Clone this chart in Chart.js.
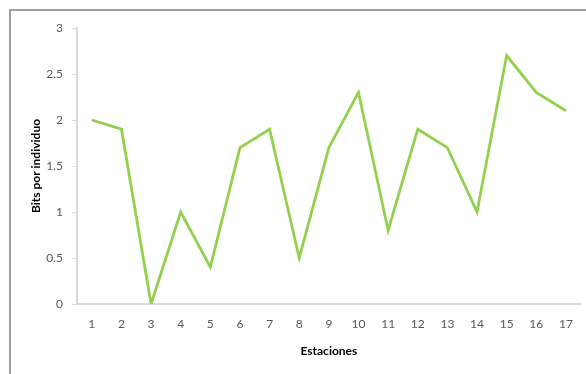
<!DOCTYPE html>
<html>
<head>
<meta charset="utf-8">
<script src="https://cdn.jsdelivr.net/npm/chart.js@4.4.1/dist/chart.umd.min.js"></script>
<style>
  html, body { margin: 0; padding: 0; background: #fff; }
  #wrap { position: relative; width: 586px; height: 374px; overflow: hidden; }
  #frame { position: absolute; left: 9px; top: 9px; width: 700px; height: 500px;
           border-top: 2px solid #a0a0a0; border-left: 2px solid #a0a0a0; }
  canvas { position: absolute; left: 0; top: 0; }
</style>
</head>
<body>
<div id="wrap">
  <div id="frame"></div>
  <canvas id="c" width="586" height="374"></canvas>
</div>
<script>
// Diversity per station (bits per individual)
const estaciones = ['1','2','3','4','5','6','7','8','9','10','11','12','13','14','15','16','17'];
const bits = [2.0, 1.9, 0.0, 1.0, 0.4, 1.7, 1.9, 0.5, 1.7, 2.3, 0.8, 1.9, 1.7, 1.0, 2.7, 2.3, 2.1];
const yTicks = [0, 0.5, 1, 1.5, 2, 2.5, 3];

const tickFont = { family: 'Lato, "Open Sans", sans-serif', size: 12 };
const titleFont = { family: 'Lato, "Open Sans", sans-serif', size: 12, weight: 'bold' };

new Chart(document.getElementById('c'), {
  type: 'line',
  data: {
    labels: estaciones,
    datasets: [{
      data: bits,
      borderColor: '#92D050',
      borderWidth: 2.8,
      pointRadius: 0,
      tension: 0,
      fill: false
    }]
  },
  options: {
    responsive: false,
    animation: false,
    layout: { padding: { top: 28, right: 4, bottom: 0, left: 0 } },
    plugins: { legend: { display: false }, tooltip: { enabled: false } },
    scales: {
      x: {
        offset: true,
        grid: { display: true, drawOnChartArea: false, drawTicks: false, color: '#d9d9d9' },
        border: { display: true, color: '#d9d9d9', width: 2 },
        ticks: { font: tickFont, color: '#595959', padding: 13, maxRotation: 0 },
        title: { display: true, text: 'Estaciones', font: titleFont, color: '#000', padding: { top: 0, bottom: 16 } },
        afterFit: (s) => { s.height = 70; }
      },
      y: {
        min: 0,
        max: 3,
        afterBuildTicks: (s) => { s.ticks = yTicks.map(v => ({ value: v })); },
        grid: { display: true, drawOnChartArea: false, drawTicks: true, tickLength: 5, color: '#d9d9d9' },
        border: { display: true, color: '#d9d9d9', width: 2 },
        ticks: { font: tickFont, color: '#595959', padding: 9, callback: (v) => String(v) },
        title: { display: true, text: 'Bits por individuo', font: titleFont, color: '#000', padding: { top: 29, bottom: 0 } },
        afterFit: (s) => { s.width = 77; }
      }
    }
  }
});
</script>
</body>
</html>
